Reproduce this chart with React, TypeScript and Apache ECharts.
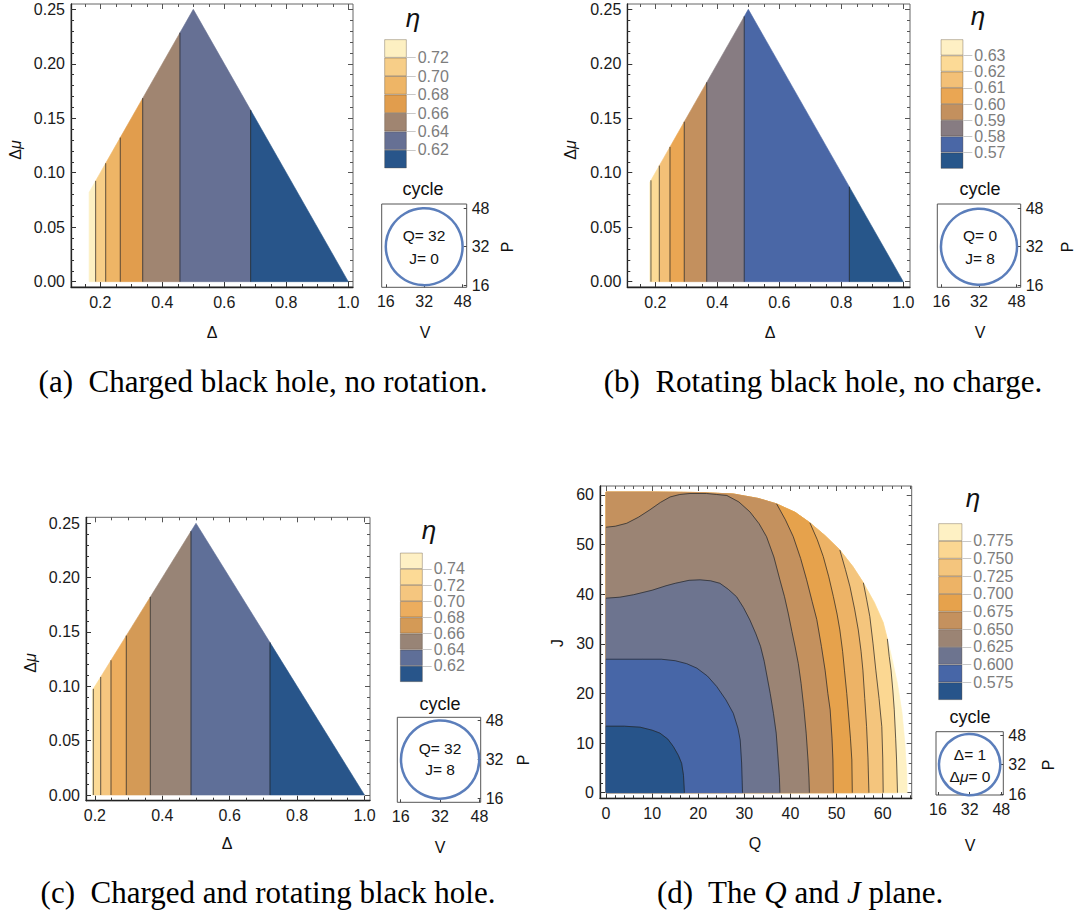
import React, { useEffect, useRef } from "react";
import * as echarts from "echarts";

type Pt = [number, number];

// ---------------- DATA ----------------
const DELTA_MAJOR = [0.2, 0.4, 0.6, 0.8, 1.0];
const DELTA_MINOR = [0.15, 0.25, 0.3, 0.35, 0.45, 0.5, 0.55, 0.65, 0.7, 0.75, 0.85, 0.9, 0.95];
const DMU_MAJOR = [0, 0.05, 0.1, 0.15, 0.2, 0.25];
const DMU_MINOR = [0.01, 0.02, 0.03, 0.04, 0.06, 0.07, 0.08, 0.09, 0.11, 0.12, 0.13, 0.14, 0.16, 0.17, 0.18, 0.19, 0.21, 0.22, 0.23, 0.24];
const QJ_MAJOR = [0, 10, 20, 30, 40, 50, 60];
const QJ_MINOR = [2, 4, 6, 8, 12, 14, 16, 18, 22, 24, 26, 28, 32, 34, 36, 38, 42, 44, 46, 48, 52, 54, 56, 58, 62, 64, 66];
const CYCLE_TICKS = [16, 32, 48];
const CYCLE_CENTER: Pt = [32, 32];
const CYCLE_RADIUS = 16;

// triangular domain of panels a-c
const TRI_APEX: Pt = [0.5, 0.25];
const TRI_END = 1.0;

// (a) charged, no rotation — contour edges in Δ (left→right), band colours (high η → low η)
const A_EDGES = [0.164, 0.185, 0.2174, 0.2645, 0.3368, 0.457, 0.685, 1.0];
const A_COLORS = ["#FDF0C2", "#F7CE88", "#EEB566", "#E19D4D", "#A08571", "#667094", "#28558A"];
const A_LEVELS = ["0.72", "0.70", "0.68", "0.66", "0.64", "0.62"];
const A_CYCLE = ["Q= 32", "J= 0"];

// (b) rotating, no charge
const B_EDGES = [0.182, 0.186, 0.213, 0.2474, 0.2935, 0.3658, 0.487, 0.826, 1.0];
const B_COLORS = ["#FEF0C4", "#FCDA96", "#F3C077", "#EAA653", "#C3905E", "#877C82", "#4A67A6", "#27568A"];
const B_LEVELS = ["0.63", "0.62", "0.61", "0.60", "0.59", "0.58", "0.57"];
const B_CYCLE = ["Q= 0", "J= 8"];

// (c) charged and rotating
const C_EDGES = [0.1923, 0.1953, 0.2172, 0.2478, 0.2932, 0.3644, 0.4852, 0.7196, 1.0];
const C_COLORS = ["#FEF0C4", "#FCDA96", "#F5C67F", "#ECAD5E", "#D49A56", "#988476", "#5F6F98", "#28558A"];
const C_LEVELS = ["0.74", "0.72", "0.70", "0.68", "0.66", "0.64", "0.62"];
const C_CYCLE = ["Q= 32", "J= 8"];

// (d) Q–J plane
const D_LEVELS = ["0.775", "0.750", "0.725", "0.700", "0.675", "0.650", "0.625", "0.600", "0.575"];
const D_COLORS = ["#FEF1C4", "#FBD792", "#F4C57D", "#EDB366", "#E6A24C", "#C4915E", "#9B8474", "#6D748F", "#4766A7", "#27548A"];
const D_CYCLE = ["Δ= 1", "Δ{i|μ}= 0"];
const D_BOUNDARY: Pt[] = [
  [0, 60.6], [10, 60.6], [20, 60.5], [27.6, 60.2], [33, 59.3], [37, 58.2], [41, 56.5], [44.2, 54.4],
  [47.5, 51.8], [50.7, 48.9], [53.5, 45.6], [55.8, 42.3], [58.2, 38.3], [60.1, 34.3], [61.0, 31],
  [61.9, 27.5], [63.2, 22], [64.2, 16], [64.8, 10], [65.2, 4], [65.3, 0],
];
const D_C775: Pt[] = [[61.0, 31], [61.4, 27.5], [61.8, 24.7], [62.2, 20.5], [62.5, 16.7], [62.8, 11], [63.0, 6.6], [63.2, 0]];
const D_C750: Pt[] = [[55.8, 42.3], [56.5, 39], [57.2, 35.5], [57.9, 30], [58.5, 24.7], [59.2, 19], [59.8, 13.3], [60.0, 7], [60.1, 0]];
const D_C725: Pt[] = [[50.7, 48.9], [51.9, 45], [52.9, 41.5], [53.9, 37], [54.7, 32.8], [55.3, 28.5], [55.7, 24.7], [56.1, 19], [56.5, 13.3], [56.8, 7], [57, 0]];
const D_C700: Pt[] = [[44.2, 54.4], [45.8, 51], [47.1, 47.6], [48.3, 43.5], [49.3, 39.5], [50.1, 36], [50.7, 32.8], [51.3, 28.5], [51.7, 24.7], [52.2, 20], [52.5, 16.7], [53.0, 11], [53.3, 6.6], [53.4, 0]];
const D_C675: Pt[] = [[37, 58.2], [38.9, 55], [40.6, 51.6], [42.2, 47.2], [43.5, 42.9], [44.7, 38.5], [45.7, 34.9], [46.7, 29.5], [47.5, 24.7], [48.1, 20], [48.6, 16.7], [49.0, 11], [49.2, 6.6], [49.3, 0]];
const D_C650: Pt[] = [[0, 53.5], [2, 53.7], [4.5, 54.3], [7, 55.5], [9.5, 57], [11.8, 58.5], [13.9, 59.6], [16, 60.1], [18.2, 60.3], [21.8, 60.3], [24, 60.1], [26.2, 59.9], [28.8, 58.6], [31.2, 56.6], [33.2, 54.2], [34.8, 51.6], [36.4, 47.5], [37.7, 42.9], [38.7, 39.5], [39.5, 36.2], [40.3, 32.5], [41, 29.4], [41.7, 26], [42.3, 22], [42.9, 17], [43.4, 12], [43.8, 6.6], [44.0, 3], [44.1, 0]];
const D_C625: Pt[] = [[0, 39.2], [3, 39.4], [6, 39.9], [10, 40.8], [13, 41.7], [15, 42.2], [18, 42.8], [20.4, 42.9], [22.7, 42.7], [24.7, 42.2], [26.5, 41], [28.3, 39.5], [29.8, 37.3], [31.2, 34.8], [32.5, 32], [33.5, 29.5], [34.3, 26.5], [34.9, 23.5], [35.6, 20], [36.3, 16], [36.9, 12], [37.3, 7], [37.6, 3], [37.7, 0]];
const D_C600: Pt[] = [[0, 26.9], [8, 26.9], [12, 26.9], [15, 26.6], [17.5, 26], [19.7, 25.1], [22, 23.5], [24, 21.4], [26, 18.7], [27.6, 16], [28.6, 13], [29.1, 10.6], [29.4, 6], [29.6, 0]];
const D_C575: Pt[] = [[0, 13.4], [4, 13.4], [7.4, 13.2], [10, 12.6], [11.7, 12.0], [13.4, 10.8], [14.6, 9.3], [15.7, 7.5], [16.4, 5.9], [16.8, 3.5], [17, 0]];
const D_CONTOURS: Pt[][] = [D_C775, D_C750, D_C725, D_C700, D_C675, D_C650, D_C625, D_C600, D_C575];

const CAPTIONS = [
  "(a)  Charged black hole, no rotation.",
  "(b)  Rotating black hole, no charge.",
  "(c)  Charged and rotating black hole.",
  "(d)  The {i|Q} and {i|J} plane.",
];

// ---------------- LAYOUT ----------------
const SANS = "'Liberation Sans', Arial, sans-serif";
const SERIF = "'Liberation Serif', 'Times New Roman', serif";

interface Rect { l: number; t: number; r: number; b: number }
interface Panel {
  kind: "tri" | "qj";
  edges?: number[]; colors: string[]; levels: string[]; cycle: string[]; caption: string;
  main: Rect; xr: Pt; yr: Pt; legend: Rect; eta: Pt; cycleTitle: Pt; inset: Rect; vr: Pt; pr: Pt;
  cycleText: Pt[]; xName: Pt; yName: Pt; vName: Pt; pName: Pt; cap: Pt; xLabel: string; yLabel: string;
}

const PANELS: Panel[] = [
  {
    kind: "tri", edges: A_EDGES, colors: A_COLORS, levels: A_LEVELS, cycle: A_CYCLE, caption: CAPTIONS[0],
    main: { l: 71, t: 4, r: 353, b: 287 }, xr: [0.1055, 1.0152], yr: [-0.0049, 0.2549],
    legend: { l: 384.3, t: 39.3, r: 406.7, b: 168.3 }, eta: [413, 18], cycleTitle: [423, 189],
    inset: { l: 381.7, t: 204, r: 466.7, b: 287.3 }, vr: [14.3, 49.7], pr: [15.1, 49.8],
    cycleText: [[424, 235], [424, 258]], xName: [212, 332], yName: [15, 150], vName: [425, 332], pName: [507, 247],
    cap: [263, 381], xLabel: "Δ", yLabel: "Δ{i|μ}",
  },
  {
    kind: "tri", edges: B_EDGES, colors: B_COLORS, levels: B_LEVELS, cycle: B_CYCLE, caption: CAPTIONS[1],
    main: { l: 627.3, t: 4, r: 910, b: 287 }, xr: [0.1097, 1.0216], yr: [-0.0049, 0.2549],
    legend: { l: 940.7, t: 39.3, r: 963.3, b: 168.7 }, eta: [978, 16], cycleTitle: [980, 189],
    inset: { l: 937.3, t: 204, r: 1020.7, b: 287.3 }, vr: [14.3, 49.7], pr: [15.1, 49.8],
    cycleText: [[980, 235], [980, 258]], xName: [770, 332], yName: [570, 150], vName: [980, 332], pName: [1067, 247],
    cap: [823, 381], xLabel: "Δ", yLabel: "Δ{i|μ}",
  },
  {
    kind: "tri", edges: C_EDGES, colors: C_COLORS, levels: C_LEVELS, cycle: C_CYCLE, caption: CAPTIONS[2],
    main: { l: 86, t: 517.3, r: 370, b: 800.7 }, xr: [0.1736, 1.0163], yr: [-0.00524, 0.2555],
    legend: { l: 400, t: 552.7, r: 422.7, b: 682 }, eta: [429, 530], cycleTitle: [440, 704],
    inset: { l: 397.3, t: 717.3, r: 480.7, b: 802.3 }, vr: [14.6, 48.5], pr: [14.4, 49.4],
    cycleText: [[440, 748], [440, 769]], xName: [227, 843], yName: [30, 663], vName: [440, 847], pName: [523, 760],
    cap: [268, 892], xLabel: "Δ", yLabel: "Δ{i|μ}",
  },
  {
    kind: "qj", colors: D_COLORS, levels: D_LEVELS, cycle: D_CYCLE, caption: CAPTIONS[3],
    main: { l: 600, t: 486, r: 911.7, b: 798.3 }, xr: [-1.3, 66.28], yr: [-1.13, 61.81],
    legend: { l: 938.3, t: 523.3, r: 962.3, b: 700 }, eta: [973, 498], cycleTitle: [970, 717],
    inset: { l: 936, t: 731.7, r: 1003.3, b: 795 }, vr: [15, 49], pr: [15.6, 49.8],
    cycleText: [[970, 754], [970, 776]], xName: [755, 843], yName: [557, 643], vName: [970, 845], pName: [1048, 765],
    cap: [800, 892], xLabel: "Q", yLabel: "J",
  },
];

// ---------------- GEOMETRY HELPERS ----------------
const triTop = (d: number) =>
  d <= TRI_APEX[0] ? (TRI_APEX[1] * d) / TRI_APEX[0] : (TRI_APEX[1] * (TRI_END - d)) / (TRI_END - TRI_APEX[0]);

function triBands(edges: number[], colors: string[]) {
  const polys: { pts: Pt[]; color: string }[] = [];
  for (let i = 0; i < edges.length - 1; i++) {
    const a = edges[i], b = edges[i + 1];
    const pts: Pt[] = [[a, 0], [b, 0], [b, triTop(b)]];
    if (a < TRI_APEX[0] && b > TRI_APEX[0]) pts.push(TRI_APEX);
    pts.push([a, triTop(a)]);
    polys.push({ pts, color: colors[i] });
  }
  return polys;
}
const triLines = (edges: number[]): Pt[][] => edges.slice(1, -1).map((b) => [[b, 0], [b, triTop(b)]] as Pt[]);

function qjBands() {
  const polys: { pts: Pt[]; color: string }[] = [{ pts: [[0, 0], ...D_BOUNDARY], color: D_COLORS[0] }];
  D_CONTOURS.forEach((c, k) => {
    const s = c[0];
    const prefix: Pt[] = s[0] <= 0 ? [[0, 0]] : [[0, 0], ...D_BOUNDARY.filter((p) => p[0] < s[0])];
    polys.push({ pts: [...prefix, ...c], color: D_COLORS[k + 1] });
  });
  return polys;
}

// ---------------- OPTION ----------------
function buildOption() {
  const grid: any[] = [], xAxis: any[] = [], yAxis: any[] = [], series: any[] = [], graphic: any[] = [];
  const TICK_FS = 16;

  const addGrid = (r: Rect, show: boolean, border = "#555") => {
    grid.push({ left: r.l, top: r.t, width: r.r - r.l, height: r.b - r.t, show, borderColor: border, borderWidth: 1, backgroundColor: "rgba(0,0,0,0)" });
    return grid.length - 1;
  };
  const tickAxis = (gi: number, pos: string, range: Pt, values: number[], len: number, color: string, inside = true, label?: { fmt: (v: number) => string; margin: number }) => ({
    gridIndex: gi, type: "value", position: pos, min: range[0], max: range[1],
    splitLine: { show: false },
    axisLine: { show: false, onZero: false },
    axisTick: { show: true, inside, length: len, customValues: values, lineStyle: { color, width: 1 } },
    axisLabel: label
      ? { show: true, customValues: values, formatter: label.fmt, color: "#1a1a1a", fontSize: TICK_FS, fontFamily: SANS, margin: label.margin }
      : { show: false },
  });
  const addX = (c: any) => { xAxis.push(c); return xAxis.length - 1; };
  const addY = (c: any) => { yAxis.push(c); return yAxis.length - 1; };

  const text = (p: Pt, t: string, o: any = {}) => {
    const size = o.size || 16;
    const family = o.family || SANS;
    const color = o.color || "#111";
    graphic.push({
      type: "text", x: p[0], y: p[1], rotation: o.rot || 0, silent: true, z: 100,
      style: {
        text: t, fill: color, fontSize: size, fontFamily: family,
        fontStyle: o.italic ? "italic" : "normal", textAlign: "center", textVerticalAlign: "middle",
        rich: { i: { fontStyle: "italic", fontSize: size, fontFamily: family, fill: color } },
      },
    });
  };

  PANELS.forEach((P) => {
    // ---- main plot ----
    const gi = addGrid(P.main, true, "#666");
    const isTri = P.kind === "tri";
    const xMaj = isTri ? DELTA_MAJOR : QJ_MAJOR, xMin = isTri ? DELTA_MINOR : QJ_MINOR;
    const yMaj = isTri ? DMU_MAJOR : QJ_MAJOR, yMin = isTri ? DMU_MINOR : QJ_MINOR;
    const xFmt = isTri ? (v: number) => v.toFixed(1) : (v: number) => String(v);
    const yFmt = isTri ? (v: number) => v.toFixed(2) : (v: number) => String(v);
    const inX = (v: number) => v > P.xr[0] && v < P.xr[1];
    const inY = (v: number) => v > P.yr[0] && v < P.yr[1];
    const xi = addX({ ...tickAxis(gi, "bottom", P.xr, xMaj, 5, "#333", true, { fmt: xFmt, margin: 7 }), axisLine: { show: true, onZero: false, lineStyle: { color: "#222", width: 1.3 } } });
    addX(tickAxis(gi, "bottom", P.xr, xMin.filter(inX), 3, "#333"));
    addX(tickAxis(gi, "top", P.xr, xMaj, 5, "#555"));
    addX(tickAxis(gi, "top", P.xr, xMin.filter(inX), 3, "#555"));
    const yi = addY({ ...tickAxis(gi, "left", P.yr, yMaj, 5, "#333", true, { fmt: yFmt, margin: 6 }), axisLine: { show: true, onZero: false, lineStyle: { color: "#222", width: 1.3 } } });
    addY(tickAxis(gi, "left", P.yr, yMin.filter(inY), 3, "#333"));
    addY(tickAxis(gi, "right", P.yr, yMaj, 5, "#555"));
    addY(tickAxis(gi, "right", P.yr, yMin.filter(inY), 3, "#555"));

    const polys = isTri ? triBands(P.edges!, P.colors) : qjBands();
    const lines = isTri ? triLines(P.edges!) : D_CONTOURS;
    series.push({
      type: "custom", coordinateSystem: "cartesian2d", xAxisIndex: xi, yAxisIndex: yi, clip: false, silent: true, z: 2,
      data: polys.map((p) => p.pts[0]),
      renderItem: (params: any, api: any) => {
        const p = polys[params.dataIndex];
        return { type: "polygon", shape: { points: p.pts.map((q) => api.coord(q)) }, style: { fill: p.color, stroke: p.color, lineWidth: 0.6 } };
      },
    });
    series.push({
      type: "custom", coordinateSystem: "cartesian2d", xAxisIndex: xi, yAxisIndex: yi, clip: false, silent: true, z: 3,
      data: lines.map((l) => l[0]),
      renderItem: (params: any, api: any) => {
        const l = lines[params.dataIndex];
        return { type: "polyline", shape: { points: l.map((q) => api.coord(q)) }, style: { fill: null, stroke: "rgba(35,35,35,0.7)", lineWidth: 1 } };
      },
    });

    // ---- legend bar ----
    const lg = addGrid(P.legend, false);
    const n = P.colors.length;
    const lx = addX({ gridIndex: lg, type: "category", data: [""], show: false });
    const ticks = Array.from({ length: n - 1 }, (_, i) => i + 1);
    const ly = addY({
      gridIndex: lg, type: "value", position: "right", min: 0, max: n,
      splitLine: { show: false }, axisLine: { show: false, onZero: false },
      axisTick: { show: true, inside: false, length: 9, customValues: ticks, lineStyle: { color: "#c8c8c8", width: 1 } },
      axisLabel: { show: true, customValues: ticks, formatter: (v: number) => P.levels[n - 1 - Math.round(v)], color: "#7d7d7d", fontSize: TICK_FS, fontFamily: SANS, margin: 11 },
    });
    for (let i = n - 1; i >= 0; i--) {
      series.push({
        type: "bar", xAxisIndex: lx, yAxisIndex: ly, stack: "lg" + lg, barWidth: "100%", silent: true, z: 2,
        data: [1], itemStyle: { color: P.colors[i], borderColor: "rgba(60,45,30,0.45)", borderWidth: 0.7 },
      });
    }
    text(P.eta, "η", { size: 26, italic: true, color: "#111" });

    // ---- cycle inset ----
    const ig = addGrid(P.inset, true, "#555");
    const ix = addX({ ...tickAxis(ig, "bottom", P.vr, CYCLE_TICKS, 3, "#444", true, { fmt: (v) => String(v), margin: 6 }) });
    const iy = addY({ ...tickAxis(ig, "right", P.pr, CYCLE_TICKS, 3, "#444", true, { fmt: (v) => String(v), margin: 5 }) });
    series.push({
      type: "custom", coordinateSystem: "cartesian2d", xAxisIndex: ix, yAxisIndex: iy, clip: false, silent: true, z: 3,
      data: [CYCLE_CENTER],
      renderItem: (_p: any, api: any) => {
        const c = api.coord(CYCLE_CENTER);
        const s = api.size([CYCLE_RADIUS, CYCLE_RADIUS]);
        return { type: "circle", shape: { cx: c[0], cy: c[1], r: (s[0] + s[1]) / 2 }, style: { fill: "none", stroke: "#5B7EBB", lineWidth: 2.5 } };
      },
    });
    text(P.cycleTitle, "cycle", { size: 18 });
    text(P.cycleText[0], P.cycle[0], { size: 15.5 });
    text(P.cycleText[1], P.cycle[1], { size: 15.5 });
    text(P.vName, "V", { size: 16 });
    text(P.pName, "P", { size: 16, rot: Math.PI / 2 });

    // ---- axis names & caption ----
    text(P.xName, P.xLabel, { size: 16 });
    text(P.yName, P.yLabel, { size: 16, rot: Math.PI / 2 });
    text(P.cap, P.caption, { size: 31, family: SERIF, color: "#000" });
  });

  return { animation: false, backgroundColor: "#fff", textStyle: { fontFamily: SANS }, grid, xAxis, yAxis, series, graphic };
}

export default function App() {
  const ref = useRef<HTMLDivElement>(null);
  useEffect(() => {
    if (!ref.current) return;
    const chart = echarts.init(ref.current, null, { renderer: "svg" });
    chart.setOption(buildOption() as any);
    return () => chart.dispose();
  }, []);
  return <div ref={ref} style={{ position: "absolute", left: 0, top: 0, width: 1076, height: 911, background: "#fff" }} />;
}
